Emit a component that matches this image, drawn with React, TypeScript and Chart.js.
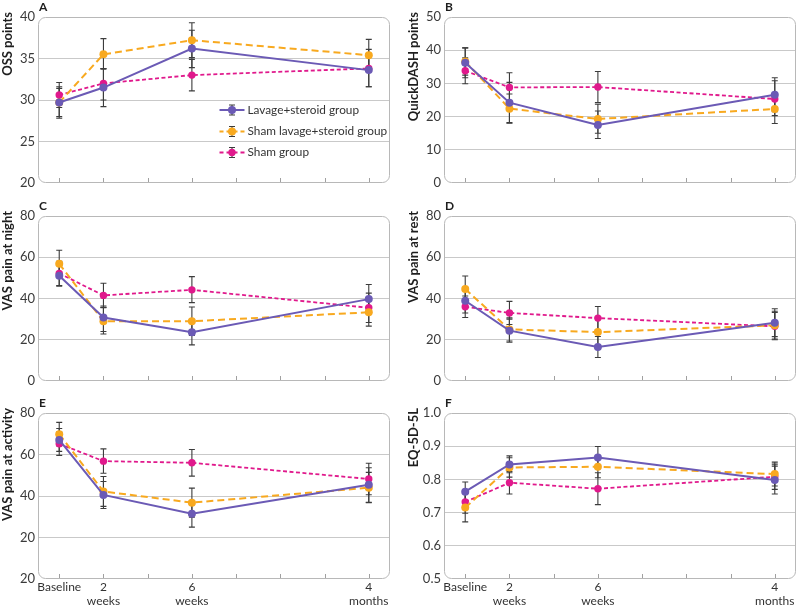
import React, { useEffect, useRef } from 'react';
import { Chart, registerables } from 'chart.js';

Chart.register(...registerables);

// ---------- shared axis data ----------
const timePositions = [0, 1, 3, 7]; // Baseline, 2 weeks, 6 weeks, 4 months (axis slots)
const timeSlots = [0, 1, 2, 3, 4, 5, 6, 7];
const timeSlotLabels = ['Baseline', '2\nweeks', '', '6\nweeks', '', '', '', '4\nmonths'];
const seriesNames = ['Lavage+steroid group', 'Sham lavage+steroid group', 'Sham group'];

// ---------- A: OSS points ----------
const ossLavageMean = [29.7, 31.5, 36.2, 33.6];
const ossLavageLow = [27.8, 29.2, 33.9, 31.6];
const ossLavageHigh = [31.6, 33.8, 38.4, 35.6];
const ossShamLavageMean = [29.7, 35.5, 37.2, 35.4];
const ossShamLavageLow = [28.0, 33.7, 35.1, 33.5];
const ossShamLavageHigh = [31.4, 37.4, 39.3, 37.3];
const ossShamMean = [30.6, 32.0, 33.0, 33.8];
const ossShamLow = [29.1, 30.0, 31.1, 31.6];
const ossShamHigh = [32.1, 33.8, 34.9, 36.1];
const ossTickValues = [20, 25, 30, 35, 40];
const ossTickLabels = ['20', '25', '30', '35', '40'];

// ---------- B: QuickDASH points ----------
const dashLavageMean = [36.2, 24.2, 17.5, 26.6];
const dashLavageLow = [31.7, 18.0, 13.4, 21.5];
const dashLavageHigh = [40.7, 30.3, 21.7, 31.7];
const dashShamLavageMean = [36.6, 22.4, 19.3, 22.3];
const dashShamLavageLow = [32.5, 18.2, 15.0, 17.9];
const dashShamLavageHigh = [40.7, 26.8, 23.7, 26.6];
const dashShamMean = [33.8, 28.8, 28.9, 25.3];
const dashShamLow = [29.9, 24.4, 24.2, 20.3];
const dashShamHigh = [37.7, 33.2, 33.6, 30.8];
const dashTickValues = [0, 10, 20, 30, 40, 50];
const dashTickLabels = ['0', '10', '20', '30', '40', '50'];

// ---------- C: VAS pain at night ----------
const nightLavageMean = [51.0, 30.8, 23.6, 39.7];
const nightLavageLow = [46.0, 24.0, 17.5, 32.8];
const nightLavageHigh = [56.2, 36.4, 29.7, 46.8];
const nightShamLavageMean = [56.8, 29.0, 29.0, 33.3];
const nightShamLavageLow = [50.3, 22.8, 22.1, 26.6];
const nightShamLavageHigh = [63.4, 35.6, 35.9, 40.0];
const nightShamMean = [52.2, 41.5, 44.2, 35.5];
const nightShamLow = [46.3, 35.7, 38.0, 28.4];
const nightShamHigh = [58.0, 47.4, 50.6, 42.6];
const nightTickValues = [0, 20, 40, 60, 80];
const nightTickLabels = ['0', '20', '40', '60', '80'];

// ---------- D: VAS pain at rest ----------
const restLavageMean = [38.9, 24.4, 16.5, 28.2];
const restLavageLow = [33.0, 18.8, 11.4, 21.5];
const restLavageHigh = [44.8, 30.0, 21.6, 35.0];
const restShamLavageMean = [44.6, 25.0, 23.7, 27.0];
const restShamLavageLow = [38.3, 19.4, 17.0, 20.4];
const restShamLavageHigh = [50.9, 30.6, 30.3, 33.8];
const restShamMean = [36.0, 33.0, 30.5, 26.5];
const restShamLow = [30.8, 27.4, 25.0, 20.0];
const restShamHigh = [41.2, 38.6, 36.1, 33.2];
const restTickValues = [0, 20, 40, 60, 80];
const restTickLabels = ['0', '20', '40', '60', '80'];

// ---------- E: VAS pain at activity ----------
const activityLavageMean = [67.0, 40.5, 31.4, 45.4];
const activityLavageLow = [61.5, 34.0, 25.0, 37.0];
const activityLavageHigh = [72.5, 47.0, 37.8, 53.6];
const activityShamLavageMean = [69.8, 42.2, 36.8, 44.0];
const activityShamLavageLow = [64.1, 35.0, 29.8, 36.8];
const activityShamLavageHigh = [75.5, 49.4, 43.8, 51.4];
const activityShamMean = [65.2, 56.8, 56.0, 48.2];
const activityShamLow = [59.6, 51.0, 49.6, 40.6];
const activityShamHigh = [70.8, 62.7, 62.4, 55.8];
const activityTickValues = [0, 20, 40, 60, 80];
const activityTickLabels = ['20', '20', '40', '60', '80']; // as printed in the source figure

// ---------- F: EQ-5D-5L ----------
const eqLavageMean = [0.763, 0.845, 0.866, 0.798];
const eqLavageLow = [0.735, 0.82, 0.833, 0.756];
const eqLavageHigh = [0.792, 0.871, 0.899, 0.84];
const eqShamLavageMean = [0.715, 0.836, 0.838, 0.816];
const eqShamLavageLow = [0.672, 0.807, 0.805, 0.78];
const eqShamLavageHigh = [0.758, 0.865, 0.871, 0.852];
const eqShamMean = [0.732, 0.79, 0.772, 0.808];
const eqShamLow = [0.698, 0.756, 0.724, 0.77];
const eqShamHigh = [0.766, 0.824, 0.82, 0.846];
const eqTickValues = [0.5, 0.6, 0.7, 0.8, 0.9, 1.0];
const eqTickLabels = ['0.5', '0.6', '0.7', '0.8', '0.9', '1.0'];

// ---------- styles ----------
const FONT = 'Lato, "Open Sans", sans-serif';
const seriesStyles = [
  { color: '#6b5ab5', dash: [] as number[], width: 2, radius: 4 },
  { color: '#f8a91f', dash: [7, 4], width: 2, radius: 4 },
  { color: '#e0198c', dash: [4, 2.5], width: 1.8, radius: 3.7 },
];
const errorColor = '#3c3c3c';
const gridColor = '#c9c9c9';
const frameColor = '#b8b8b8';

type Series = { mean: number[]; low: number[]; high: number[] };
type Panel = {
  letter: string;
  yTitle: string;
  tickValues: number[];
  tickLabels: string[];
  series: Series[];
  col: number;
  row: number;
  legend?: boolean;
};

const panels: Panel[] = [
  {
    letter: 'A', yTitle: 'OSS points', tickValues: ossTickValues, tickLabels: ossTickLabels, col: 0, row: 0, legend: true,
    series: [
      { mean: ossLavageMean, low: ossLavageLow, high: ossLavageHigh },
      { mean: ossShamLavageMean, low: ossShamLavageLow, high: ossShamLavageHigh },
      { mean: ossShamMean, low: ossShamLow, high: ossShamHigh },
    ],
  },
  {
    letter: 'B', yTitle: 'QuickDASH points', tickValues: dashTickValues, tickLabels: dashTickLabels, col: 1, row: 0,
    series: [
      { mean: dashLavageMean, low: dashLavageLow, high: dashLavageHigh },
      { mean: dashShamLavageMean, low: dashShamLavageLow, high: dashShamLavageHigh },
      { mean: dashShamMean, low: dashShamLow, high: dashShamHigh },
    ],
  },
  {
    letter: 'C', yTitle: 'VAS pain at night', tickValues: nightTickValues, tickLabels: nightTickLabels, col: 0, row: 1,
    series: [
      { mean: nightLavageMean, low: nightLavageLow, high: nightLavageHigh },
      { mean: nightShamLavageMean, low: nightShamLavageLow, high: nightShamLavageHigh },
      { mean: nightShamMean, low: nightShamLow, high: nightShamHigh },
    ],
  },
  {
    letter: 'D', yTitle: 'VAS pain at rest', tickValues: restTickValues, tickLabels: restTickLabels, col: 1, row: 1,
    series: [
      { mean: restLavageMean, low: restLavageLow, high: restLavageHigh },
      { mean: restShamLavageMean, low: restShamLavageLow, high: restShamLavageHigh },
      { mean: restShamMean, low: restShamLow, high: restShamHigh },
    ],
  },
  {
    letter: 'E', yTitle: 'VAS pain at activity', tickValues: activityTickValues, tickLabels: activityTickLabels, col: 0, row: 2,
    series: [
      { mean: activityLavageMean, low: activityLavageLow, high: activityLavageHigh },
      { mean: activityShamLavageMean, low: activityShamLavageLow, high: activityShamLavageHigh },
      { mean: activityShamMean, low: activityShamLow, high: activityShamHigh },
    ],
  },
  {
    letter: 'F', yTitle: 'EQ-5D-5L', tickValues: eqTickValues, tickLabels: eqTickLabels, col: 1, row: 2,
    series: [
      { mean: eqLavageMean, low: eqLavageLow, high: eqLavageHigh },
      { mean: eqShamLavageMean, low: eqShamLavageLow, high: eqShamLavageHigh },
      { mean: eqShamMean, low: eqShamLow, high: eqShamHigh },
    ],
  },
];

// ---------- layout ----------
const rowTops = [0, 199, 396];
const rowHeights = [199, 197, 210];
const rowXAxisHeights = [16, 15, 27];
const plotTopPad = 17;
const colLefts = [0, 400];
const colYAxisWidths = [38, 44];
const colRightPads = [10, 2];
const colTitleX = [8, 14];

function drawErrorBar(ctx: CanvasRenderingContext2D, x: number, y1: number, y2: number) {
  const cap = 3;
  ctx.beginPath();
  ctx.moveTo(x, y1);
  ctx.lineTo(x, y2);
  ctx.moveTo(x - cap, y1);
  ctx.lineTo(x + cap, y1);
  ctx.moveTo(x - cap, y2);
  ctx.lineTo(x + cap, y2);
  ctx.stroke();
}

function roundedRectPath(ctx: CanvasRenderingContext2D, x: number, y: number, w: number, h: number, r: number) {
  ctx.beginPath();
  ctx.moveTo(x + r, y);
  ctx.lineTo(x + w - r, y);
  ctx.arcTo(x + w, y, x + w, y + r, r);
  ctx.lineTo(x + w, y + h - r);
  ctx.arcTo(x + w, y + h, x + w - r, y + h, r);
  ctx.lineTo(x + r, y + h);
  ctx.arcTo(x, y + h, x, y + h - r, r);
  ctx.lineTo(x, y + r);
  ctx.arcTo(x, y, x + r, y, r);
  ctx.closePath();
}

function makeDecorPlugin(panel: Panel) {
  return {
    id: 'panelDecor',
    beforeDatasetsDraw(chart: any) {
      const { ctx, chartArea: a, scales } = chart;
      ctx.save();
      ctx.strokeStyle = frameColor;
      ctx.lineWidth = 1;
      roundedRectPath(ctx, a.left + 0.5, a.top + 0.5, a.right - a.left - 1, a.bottom - a.top - 1, 7);
      ctx.stroke();
      ctx.strokeStyle = '#a0a0a0';
      timeSlots.forEach((v) => {
        const x = Math.round(scales.x.getPixelForValue(v)) + 0.5;
        ctx.beginPath();
        ctx.moveTo(x, a.bottom - 1);
        ctx.lineTo(x, a.bottom - 5);
        ctx.stroke();
      });
      ctx.strokeStyle = errorColor;
      ctx.lineWidth = 1.1;
      panel.series.forEach((s) => {
        timePositions.forEach((t, i) => {
          const x = scales.x.getPixelForValue(t);
          drawErrorBar(ctx, x, scales.y.getPixelForValue(s.low[i]), scales.y.getPixelForValue(s.high[i]));
        });
      });
      ctx.restore();
    },
    afterDraw(chart: any) {
      const { ctx, chartArea: a } = chart;
      ctx.save();
      // panel letter
      ctx.fillStyle = '#1e1e1e';
      ctx.font = `bold 12px ${FONT}`;
      ctx.textAlign = 'left';
      ctx.textBaseline = 'alphabetic';
      ctx.fillText(panel.letter, a.left + 1, a.top - 6);
      // y title
      ctx.translate(colTitleX[panel.col], a.top - 5);
      ctx.rotate(-Math.PI / 2);
      ctx.font = `bold 13px ${FONT}`;
      ctx.textAlign = 'right';
      ctx.textBaseline = 'middle';
      ctx.fillText(panel.yTitle, 0, 0);
      ctx.restore();

      if (panel.legend) {
        ctx.save();
        const rows = [93, 114.5, 135.5];
        const x1 = a.left + 181.5;
        const x2 = a.left + 206.5;
        const xm = (x1 + x2) / 2;
        seriesNames.forEach((name, i) => {
          const st = seriesStyles[i];
          const y = a.top + rows[i];
          ctx.strokeStyle = st.color;
          ctx.lineWidth = st.width;
          ctx.setLineDash(st.dash.length ? [4, 3] : []);
          ctx.beginPath();
          ctx.moveTo(x1, y);
          ctx.lineTo(x2, y);
          ctx.stroke();
          ctx.setLineDash([]);
          ctx.strokeStyle = errorColor;
          ctx.lineWidth = 1.1;
          drawErrorBar(ctx, xm, y - 5, y + 5);
          ctx.fillStyle = st.color;
          ctx.beginPath();
          ctx.arc(xm, y, st.radius, 0, Math.PI * 2);
          ctx.fill();
          ctx.fillStyle = '#333';
          ctx.font = `11.8px ${FONT}`;
          ctx.textAlign = 'left';
          ctx.textBaseline = 'middle';
          ctx.fillText(name, x2 + 3, y);
        });
        ctx.restore();
      }
    },
  };
}

function PanelChart({ panel }: { panel: Panel }) {
  const ref = useRef<HTMLCanvasElement>(null);
  const width = 400;
  const height = rowHeights[panel.row];
  useEffect(() => {
    if (!ref.current) return;
    const showX = panel.row === 2;
    const yMin = panel.tickValues[0];
    const yMax = panel.tickValues[panel.tickValues.length - 1];
    const chart = new Chart(ref.current, {
      type: 'line',
      data: {
        datasets: panel.series.map((s, i) => ({
          label: seriesNames[i],
          data: timePositions.map((t, j) => ({ x: t, y: s.mean[j] })),
          borderColor: seriesStyles[i].color,
          backgroundColor: seriesStyles[i].color,
          borderWidth: seriesStyles[i].width,
          borderDash: seriesStyles[i].dash,
          pointRadius: seriesStyles[i].radius,
          pointBorderWidth: 0,
          pointBackgroundColor: seriesStyles[i].color,
          tension: 0,
          fill: false,
          clip: false as any,
        })),
      },
      options: {
        responsive: false,
        animation: false,
        devicePixelRatio: 1,
        layout: { padding: { top: plotTopPad, right: colRightPads[panel.col], left: 0, bottom: 0 } },
        plugins: { legend: { display: false }, tooltip: { enabled: false }, title: { display: false } },
        scales: {
          x: {
            type: 'linear',
            min: -0.48,
            max: 7.48,
            afterBuildTicks: (scale: any) => {
              scale.ticks = timeSlots.map((v) => ({ value: v }));
            },
            afterFit: (scale: any) => {
              scale.height = rowXAxisHeights[panel.row];
            },
            grid: { display: false, drawTicks: false },
            border: { display: false },
            ticks: {
              display: showX,
              autoSkip: false,
              maxRotation: 0,
              padding: 1,
              color: '#333',
              font: { family: FONT, size: 12, lineHeight: 1.15 },
              callback: (value: any) => {
                const idx = timeSlots.indexOf(Number(value));
                const lbl = idx >= 0 ? timeSlotLabels[idx] : '';
                return lbl.includes('\n') ? lbl.split('\n') : lbl;
              },
            },
          },
          y: {
            type: 'linear',
            min: yMin,
            max: yMax,
            afterBuildTicks: (scale: any) => {
              scale.ticks = panel.tickValues.map((v) => ({ value: v }));
            },
            afterFit: (scale: any) => {
              scale.width = colYAxisWidths[panel.col];
            },
            grid: {
              drawTicks: false,
              lineWidth: 1,
              color: (c: any) => (c.tick && (c.tick.value === yMin || c.tick.value === yMax) ? 'rgba(0,0,0,0)' : gridColor),
            },
            border: { display: false },
            ticks: {
              padding: 3,
              color: '#3a3a3a',
              font: { family: FONT, size: 13 },
              callback: (_v: any, index: number) => panel.tickLabels[index],
            },
          },
        },
      } as any,
      plugins: [makeDecorPlugin(panel)],
    });
    return () => chart.destroy();
  }, [panel]);
  return (
    <canvas
      ref={ref}
      width={width}
      height={height}
      style={{ position: 'absolute', left: colLefts[panel.col], top: rowTops[panel.row], width, height }}
    />
  );
}

export default function App() {
  return (
    <div style={{ position: 'absolute', left: 0, top: 0, width: 800, height: 606, background: '#fff', overflow: 'hidden' }}>
      {panels.map((p) => (
        <PanelChart key={p.letter} panel={p} />
      ))}
    </div>
  );
}
